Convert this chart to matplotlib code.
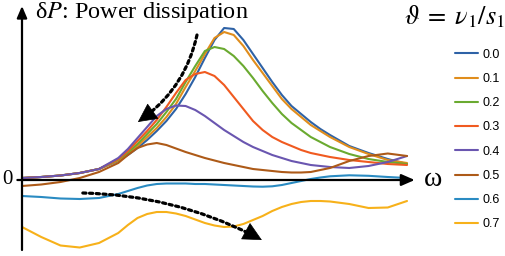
import matplotlib
matplotlib.use("Agg")
import matplotlib.pyplot as plt

plt.rcParams['mathtext.fontset'] = 'stix'

# frequency grid (arbitrary units)
omega = [0, 0.5, 1, 1.5, 2,
         2.5, 2.75, 3, 3.25, 3.5, 3.75, 4, 4.25, 4.5, 4.75, 5, 5.25, 5.5, 5.75,
         6, 6.25, 6.5, 6.75, 7, 7.25, 7.5, 7.75, 8,
         8.5, 9, 9.5, 10]

labels = ["0.0", "0.1", "0.2", "0.3", "0.4", "0.5", "0.6", "0.7"]
colors = ["#2e62a6", "#e08d1c", "#6aaa30", "#f05a20", "#6a56b0", "#ad5a18", "#2a8bc2", "#f7b11a"]

dP_00 = [0.2, 0.3, 0.45, 0.7, 1.1,
         1.9, 2.5, 3.2, 4.0, 4.9, 5.9, 7.1, 8.6, 10.3, 12.2, 14.0, 15.2, 15.1, 14.0,
         12.6, 11.2, 9.8, 8.5, 7.4, 6.6, 5.8, 5.1, 4.5,
         3.4, 2.7, 2.1, 1.6]
dP_01 = [0.2, 0.3, 0.45, 0.7, 1.1,
         1.95, 2.6, 3.4, 4.3, 5.2, 6.3, 7.6, 9.3, 10.9, 12.6, 14.2, 14.8, 14.5, 13.4,
         12.0, 10.7, 9.4, 8.1, 7.1, 6.3, 5.5, 4.9, 4.3,
         3.3, 2.6, 2.0, 1.7]
dP_02 = [0.2, 0.3, 0.45, 0.7, 1.1,
         2.05, 2.75, 3.6, 4.6, 5.6, 6.8, 8.1, 9.8, 11.4, 12.9, 13.3, 13.1, 12.4, 11.4,
         10.2, 8.9, 7.7, 6.6, 5.7, 5.0, 4.3, 3.8, 3.3,
         2.6, 2.1, 1.8, 1.6]
dP_03 = [0.2, 0.3, 0.45, 0.7, 1.1,
         2.1, 2.9, 3.9, 4.9, 6.0, 7.3, 8.7, 10.0, 10.6, 10.8, 10.4, 9.5, 8.3, 7.1,
         5.9, 5.0, 4.3, 3.8, 3.4, 3.0, 2.7, 2.5, 2.3,
         2.0, 1.8, 1.6, 1.5]
dP_04 = [0.2, 0.3, 0.45, 0.7, 1.1,
         2.2, 3.1, 4.2, 5.3, 6.4, 7.1, 7.45, 7.4, 7.0, 6.4, 5.7, 5.0, 4.4, 3.8,
         3.3, 2.9, 2.5, 2.2, 1.9, 1.7, 1.5, 1.4, 1.3,
         1.2, 1.4, 1.8, 2.4]
dP_05 = [-0.6, -0.45, -0.2, 0.2, 0.8,
         1.7, 2.5, 3.2, 3.55, 3.7, 3.5, 3.15, 2.8, 2.5, 2.2, 1.95, 1.7, 1.5, 1.3,
         1.1, 1.0, 0.9, 0.8, 0.75, 0.75, 0.8, 1.0, 1.2,
         1.9, 2.4, 2.65, 2.4]
dP_06 = [-1.6, -1.7, -1.85, -1.9, -1.8,
         -1.4, -1.1, -0.8, -0.55, -0.4, -0.35, -0.35, -0.35, -0.4, -0.4, -0.45, -0.5, -0.55, -0.6,
         -0.65, -0.67, -0.63, -0.5, -0.3, -0.1, 0.1, 0.25, 0.37,
         0.47, 0.42, 0.3, 0.2]
dP_07 = [-4.7, -5.7, -6.55, -6.75, -6.3,
         -5.3, -4.5, -3.8, -3.4, -3.2, -3.2, -3.35, -3.6, -3.95, -4.3, -4.55, -4.7, -4.65, -4.4,
         -4.0, -3.6, -3.1, -2.7, -2.4, -2.2, -2.1, -2.1, -2.15,
         -2.4, -2.8, -2.75, -2.1]

series = [dP_00, dP_01, dP_02, dP_03, dP_04, dP_05, dP_06, dP_07]

fig = plt.figure(figsize=(5.05, 2.56), dpi=100)
ax = fig.add_axes([0, 0, 1, 1])
ax.set_xlim(-0.5714, 12.545)
ax.set_ylim(-7.6, 18.0)
ax.axis('off')

handles = []
for ys, c, lab in zip(series, colors, labels):
    h, = ax.plot(omega, ys, color=c, lw=1.5, label=lab,
                 solid_joinstyle='round', solid_capstyle='round')
    handles.append(h)

# axes with arrows
ax.annotate('', xy=(0, 17.4), xytext=(0, -7.0),
            arrowprops=dict(arrowstyle='-|>,head_length=0.7,head_width=0.3', lw=1.6,
                            color='black', shrinkA=0, shrinkB=0))
ax.annotate('', xy=(10.2, 0), xytext=(-0.12, 0),
            arrowprops=dict(arrowstyle='-|>,head_length=0.8,head_width=0.35', lw=1.6,
                            color='black', shrinkA=0, shrinkB=0))

serif = ['Liberation Serif', 'DejaVu Serif']
ax.text(-0.39, 0, '0', fontsize=15, family=serif, ha='center', va='center')
ax.text(10.68, 0.05, 'ω', fontsize=20, family=serif, ha='center', va='center')
ax.text(0.33, 16.75, 'δ$P$: Power dissipation', fontsize=17.5, family=serif, ha='left', va='center')
ax.text(12.53, 16.3, r'$\vartheta\;=\;\nu_1/s_1$', fontsize=19, ha='right', va='center')

# dotted trend arrows
def dotted_arrow(start, end, rad, near):
    ax.annotate('', xy=end, xytext=start,
                arrowprops=dict(arrowstyle='-', lw=2.3, linestyle=(0, (1, 1.1)), color='black',
                                connectionstyle='arc3,rad=%s' % rad, shrinkA=0, shrinkB=8))
    ax.annotate('', xy=end, xytext=near,
                arrowprops=dict(arrowstyle='-|>,head_length=0.9,head_width=0.45', lw=0.5,
                                color='black', shrinkA=0, shrinkB=0, mutation_scale=14))

dotted_arrow((4.545, 14.5), (3.01, 5.8), -0.2, (3.3, 6.6))
dotted_arrow((1.58, -1.3), (6.23, -6.0), -0.12, (5.85, -5.2))

fig.legend(handles=handles, loc='upper left', bbox_to_anchor=(0.9, 0.81), frameon=False,
           prop={'family': 'Liberation Sans', 'size': 9}, handlelength=1.85,
           handletextpad=0.4, labelspacing=0.98, borderpad=0, borderaxespad=0)

fig.savefig('out.png', dpi=100)
